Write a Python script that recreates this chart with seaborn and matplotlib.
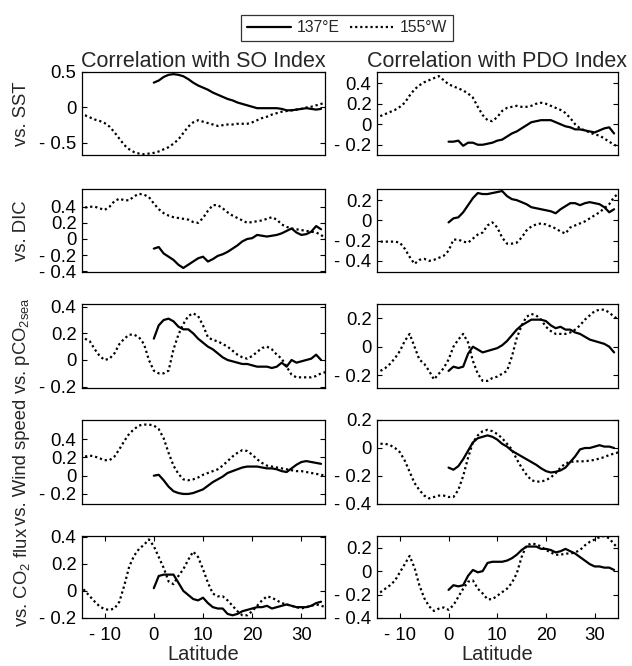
import numpy as np
import pandas as pd
import matplotlib
matplotlib.use("Agg")
import matplotlib.pyplot as plt
from matplotlib.lines import Line2D
import seaborn as sns

# ---------------- data ----------------
lat_e = np.arange(0, 35)        # 137E section latitudes (0..34)
lat_w = np.arange(-15, 36)      # 155W section latitudes (-15..35)

so_sst_e = [0.35,0.38,0.43,0.46,0.47,0.46,0.44,0.40,0.35,0.31,0.28,0.25,0.21,0.18,0.15,0.12,0.10,0.07,0.05,0.03,
            0.01,-0.01,-0.01,-0.01,-0.01,-0.01,-0.02,-0.04,-0.04,-0.03,-0.02,-0.01,-0.02,-0.03,-0.02]
so_sst_w = [-0.09,-0.11,-0.14,-0.17,-0.19,-0.22,-0.27,-0.35,-0.44,-0.53,-0.59,-0.63,-0.65,-0.66,-0.65,-0.64,-0.62,
            -0.59,-0.56,-0.51,-0.45,-0.36,-0.27,-0.21,-0.18,-0.20,-0.22,-0.24,-0.26,-0.25,-0.24,-0.24,-0.23,-0.23,
            -0.23,-0.21,-0.18,-0.15,-0.13,-0.10,-0.08,-0.06,-0.05,-0.04,-0.03,-0.02,0.00,0.01,0.03,0.05,0.07]
pdo_sst_e = [-0.17,-0.17,-0.16,-0.21,-0.18,-0.18,-0.20,-0.20,-0.19,-0.18,-0.16,-0.15,-0.12,-0.09,-0.07,-0.04,-0.01,
             0.02,0.03,0.04,0.04,0.04,0.02,0.00,-0.02,-0.03,-0.05,-0.05,-0.06,-0.07,-0.08,-0.06,-0.04,-0.03,-0.09]
pdo_sst_w = [0.06,0.08,0.10,0.12,0.14,0.17,0.21,0.28,0.34,0.38,0.41,0.43,0.45,0.47,0.43,0.39,0.37,0.35,0.33,0.30,
             0.26,0.17,0.09,0.04,0.03,0.07,0.13,0.16,0.17,0.18,0.17,0.17,0.18,0.20,0.21,0.20,0.18,0.16,0.14,0.11,
             0.06,0.00,-0.04,-0.06,-0.08,-0.10,-0.11,-0.14,-0.17,-0.20,-0.22]

so_dic_e = [-0.12,-0.10,-0.18,-0.22,-0.26,-0.32,-0.36,-0.32,-0.28,-0.24,-0.22,-0.28,-0.25,-0.21,-0.19,-0.16,-0.12,
            -0.08,-0.03,0.00,0.01,0.05,0.04,0.03,0.04,0.05,0.07,0.10,0.13,0.08,0.05,0.06,0.09,0.16,0.12]
so_dic_w = [0.38,0.39,0.40,0.40,0.38,0.36,0.40,0.47,0.50,0.48,0.48,0.53,0.56,0.55,0.52,0.44,0.37,0.32,0.29,0.27,
            0.26,0.25,0.24,0.21,0.20,0.26,0.35,0.42,0.42,0.38,0.33,0.29,0.26,0.23,0.20,0.21,0.22,0.23,0.25,0.27,
            0.24,0.18,0.15,0.13,0.12,0.11,0.10,0.09,0.08,0.05,0.00]
pdo_dic_e = [-0.02,0.02,0.03,0.08,0.15,0.22,0.27,0.26,0.26,0.27,0.28,0.29,0.24,0.21,0.20,0.18,0.16,0.13,0.12,0.11,
             0.10,0.09,0.07,0.11,0.14,0.17,0.17,0.15,0.17,0.18,0.17,0.16,0.13,0.08,0.11]
pdo_dic_w = [-0.21,-0.21,-0.21,-0.21,-0.21,-0.22,-0.28,-0.36,-0.43,-0.39,-0.38,-0.40,-0.39,-0.37,-0.35,-0.30,-0.19,
             -0.19,-0.21,-0.22,-0.18,-0.14,-0.12,-0.05,-0.02,-0.07,-0.17,-0.23,-0.23,-0.22,-0.17,-0.10,-0.06,-0.04,
             -0.03,-0.04,-0.06,-0.08,-0.11,-0.13,-0.07,-0.05,-0.03,-0.01,0.02,0.05,0.08,0.12,0.16,0.23,0.27]

so_pco2_e = [0.16,0.26,0.30,0.31,0.29,0.25,0.23,0.23,0.20,0.16,0.13,0.10,0.08,0.05,0.02,0.00,-0.01,-0.02,-0.03,-0.03,
             -0.04,-0.05,-0.05,-0.05,-0.06,-0.05,-0.02,-0.05,0.00,-0.02,-0.01,0.00,0.01,0.04,0.00]
so_pco2_w = [0.17,0.16,0.14,0.08,0.03,0.00,0.01,0.05,0.12,0.16,0.19,0.19,0.17,0.12,0.00,-0.08,-0.10,-0.10,-0.08,0.08,
             0.19,0.27,0.33,0.35,0.33,0.26,0.17,0.15,0.14,0.12,0.10,0.07,0.04,0.02,0.01,0.03,0.06,0.09,0.10,0.08,
             0.04,0.01,-0.05,-0.11,-0.13,-0.13,-0.13,-0.13,-0.12,-0.10,-0.09]
pdo_pco2_e = [-0.17,-0.14,-0.15,-0.14,-0.05,0.00,-0.02,-0.04,-0.03,-0.02,-0.01,0.01,0.04,0.08,0.12,0.15,0.17,0.19,
              0.19,0.19,0.18,0.15,0.13,0.14,0.12,0.12,0.10,0.09,0.07,0.05,0.04,0.03,0.02,0.00,-0.04]
pdo_pco2_w = [-0.18,-0.17,-0.15,-0.12,-0.08,-0.03,0.04,0.09,0.00,-0.09,-0.12,-0.17,-0.23,-0.19,-0.15,-0.09,0.00,
              0.05,0.09,0.03,-0.10,-0.19,-0.24,-0.24,-0.22,-0.21,-0.19,-0.17,-0.07,0.06,0.15,0.21,0.23,0.22,0.19,
              0.14,0.11,0.09,0.09,0.09,0.10,0.12,0.15,0.19,0.22,0.25,0.26,0.26,0.24,0.21,0.19]

so_wind_e = [0.00,0.01,-0.05,-0.12,-0.17,-0.19,-0.20,-0.20,-0.19,-0.17,-0.15,-0.11,-0.07,-0.04,-0.01,0.03,0.05,0.07,
             0.09,0.10,0.10,0.10,0.09,0.08,0.08,0.07,0.05,0.04,0.08,0.12,0.15,0.16,0.15,0.14,0.13]
so_wind_w = [0.20,0.21,0.22,0.21,0.19,0.17,0.17,0.21,0.29,0.38,0.46,0.51,0.55,0.56,0.56,0.55,0.51,0.41,0.25,0.11,
             0.02,-0.04,-0.05,-0.04,-0.02,0.01,0.03,0.05,0.07,0.11,0.16,0.21,0.25,0.28,0.27,0.23,0.18,0.14,0.11,
             0.10,0.09,0.08,0.07,0.06,0.05,0.05,0.04,0.03,0.02,0.01,0.00]
pdo_wind_e = [-0.14,-0.155,-0.13,-0.08,-0.02,0.04,0.07,0.08,0.09,0.08,0.06,0.03,0.01,-0.02,-0.04,-0.06,-0.08,-0.10,
              -0.12,-0.145,-0.165,-0.175,-0.17,-0.16,-0.14,-0.10,-0.06,-0.01,0.00,0.00,0.01,0.02,0.01,0.01,0.00]
pdo_wind_w = [0.02,0.03,0.03,0.02,0.00,-0.03,-0.09,-0.17,-0.25,-0.30,-0.34,-0.36,-0.35,-0.34,-0.34,-0.35,-0.35,
              -0.30,-0.20,-0.07,0.04,0.09,0.12,0.13,0.12,0.10,0.07,0.03,-0.01,-0.08,-0.14,-0.19,-0.23,-0.24,-0.24,
              -0.23,-0.21,-0.18,-0.14,-0.11,-0.10,-0.095,-0.095,-0.095,-0.09,-0.085,-0.075,-0.065,-0.05,-0.04,-0.03]

so_flux_e = [0.02,0.11,0.12,0.12,0.12,0.06,0.00,-0.03,-0.06,-0.07,-0.05,-0.09,-0.12,-0.13,-0.13,-0.17,-0.18,-0.17,
             -0.15,-0.14,-0.13,-0.12,-0.12,-0.11,-0.13,-0.12,-0.11,-0.10,-0.11,-0.12,-0.12,-0.12,-0.11,-0.09,-0.08]
so_flux_w = [0.04,0.00,-0.04,-0.08,-0.115,-0.135,-0.14,-0.13,-0.08,0.04,0.18,0.26,0.31,0.34,0.38,0.33,0.25,0.17,
             0.07,0.05,0.11,0.16,0.23,0.29,0.25,0.16,0.06,-0.02,-0.04,-0.04,-0.07,-0.11,-0.15,-0.18,-0.18,-0.15,
             -0.11,-0.07,-0.04,-0.05,-0.07,-0.09,-0.10,-0.11,-0.12,-0.13,-0.12,-0.11,-0.10,-0.11,-0.12]
pdo_flux_e = [-0.16,-0.12,-0.13,-0.12,-0.04,0.01,-0.01,0.00,0.07,0.08,0.08,0.08,0.09,0.11,0.14,0.18,0.21,0.21,0.21,
              0.19,0.19,0.18,0.16,0.17,0.19,0.17,0.15,0.12,0.09,0.06,0.04,0.04,0.03,0.03,0.01]
pdo_flux_w = [-0.20,-0.18,-0.15,-0.12,-0.08,-0.01,0.06,0.13,0.03,-0.12,-0.23,-0.30,-0.34,-0.32,-0.31,-0.33,-0.29,
              -0.22,-0.15,-0.09,-0.08,-0.15,-0.19,-0.24,-0.24,-0.21,-0.18,-0.15,-0.10,-0.02,0.12,0.22,0.235,0.23,
              0.21,0.18,0.16,0.14,0.14,0.15,0.15,0.16,0.18,0.22,0.25,0.27,0.29,0.30,0.28,0.23,0.19]

row_labels = ["vs. SST", "vs. DIC", r"vs. pCO$_{\mathrm{2sea}}$", "vs. Wind speed", r"vs. CO$_{\mathrm{2}}$ flux"]
col_titles = ["Correlation with SO Index", "Correlation with PDO Index"]
legend_labels = ["137\u00b0E", "155\u00b0W"]
x_ticks = [-10, 0, 10, 20, 30]

series = [
    [(so_sst_e, so_sst_w), (pdo_sst_e, pdo_sst_w)],
    [(so_dic_e, so_dic_w), (pdo_dic_e, pdo_dic_w)],
    [(so_pco2_e, so_pco2_w), (pdo_pco2_e, pdo_pco2_w)],
    [(so_wind_e, so_wind_w), (pdo_wind_e, pdo_wind_w)],
    [(so_flux_e, so_flux_w), (pdo_flux_e, pdo_flux_w)],
]
ylims = [
    [(-0.67, 0.50), (-0.30, 0.51)],
    [(-0.41, 0.62), (-0.51, 0.31)],
    [(-0.21, 0.42), (-0.29, 0.30)],
    [(-0.31, 0.61), (-0.40, 0.20)],
    [(-0.20, 0.405), (-0.40, 0.30)],
]
yticks = [
    [[-0.5, 0, 0.5], [-0.2, 0, 0.2, 0.4]],
    [[-0.4, -0.2, 0, 0.2, 0.4], [-0.4, -0.2, 0, 0.2]],
    [[-0.2, 0, 0.2, 0.4], [-0.2, 0, 0.2]],
    [[-0.2, 0, 0.2, 0.4], [-0.4, -0.2, 0, 0.2]],
    [[-0.2, 0, 0.2, 0.4], [-0.4, -0.2, 0, 0.2]],
]

# ---------------- style ----------------
sns.set_style("white")
plt.rcParams['font.family'] = ['Liberation Sans', 'DejaVu Sans']
plt.rcParams['mathtext.fontset'] = 'custom'
plt.rcParams['mathtext.rm'] = 'Liberation Sans'
plt.rcParams['mathtext.it'] = 'Liberation Sans:italic'
plt.rcParams['axes.linewidth'] = 0.9

W, H = 632, 666
fig = plt.figure(figsize=(W / 100, H / 100), dpi=100)

col_x = [(82, 325), (377, 618)]
row_y = [(72, 155), (189, 272), (304, 388), (420, 504), (536, 618)]
xlims = [(-14.6, 34.8), (-14.7, 34.8)]

dot_style = (0, (1.0, 1.3))
TICKFS = 13.3

def fmt(v):
    if abs(v) < 1e-9:
        return "0"
    s = f"{abs(v):g}"
    return ("- " + s) if v < 0 else s

for r in range(5):
    for c in range(2):
        x0, x1 = col_x[c]
        y0, y1 = row_y[r]
        ax = fig.add_axes([x0 / W, 1 - y1 / H, (x1 - x0) / W, (y1 - y0) / H])
        e_vals, w_vals = series[r][c]
        dfw = pd.DataFrame({"lat": lat_w, "r": w_vals})
        dfe = pd.DataFrame({"lat": lat_e, "r": e_vals})
        sns.lineplot(data=dfw, x="lat", y="r", ax=ax, color="k", lw=1.6,
                     linestyle=dot_style, estimator=None, legend=False)
        sns.lineplot(data=dfe, x="lat", y="r", ax=ax, color="k", lw=1.6,
                     estimator=None, legend=False)
        ax.set_xlim(*xlims[c])
        ax.set_ylim(*ylims[r][c])
        ax.set_yticks(yticks[r][c])
        ax.set_yticklabels([fmt(v) for v in yticks[r][c]])
        ax.set_xlabel("")
        ax.set_ylabel("")
        for sp in ax.spines.values():
            sp.set_color("k")
            sp.set_linewidth(0.9)
        ax.tick_params(axis="y", direction="in", left=True, right=True, length=3.5,
                       width=0.8, labelsize=TICKFS, pad=4, colors="k")
        if r < 4:
            ax.set_xticks([])
        else:
            ax.set_xticks(x_ticks)
            ax.set_xticklabels([fmt(v) for v in x_ticks])
            ax.tick_params(axis="x", direction="in", bottom=True, top=True, length=3.5,
                           width=0.8, labelsize=TICKFS, pad=6.5, colors="k")
            ax.set_xlabel("Latitude", fontsize=14.5, labelpad=0.5)
        if r == 0:
            ax.set_title(col_titles[c], fontsize=15.5, pad=3)
    # row label
    yc = (row_y[r][0] + row_y[r][1]) / 2
    fig.text(22 / W, 1 - yc / H, row_labels[r], rotation=90, ha="center", va="center",
             fontsize=TICKFS)

handles = [Line2D([], [], color="k", lw=1.6),
           Line2D([], [], color="k", lw=1.6, linestyle=dot_style)]
leg = fig.legend(handles, legend_labels, loc="center", ncol=2,
                 bbox_to_anchor=(347 / W, 1 - 28 / H), frameon=True, fancybox=False,
                 edgecolor="k", fontsize=11.3, handlelength=2.8, columnspacing=0.6,
                 handletextpad=0.4, borderpad=0.35, borderaxespad=0)
leg.get_frame().set_linewidth(0.9)

fig.savefig("out.png", dpi=100, facecolor="white")
